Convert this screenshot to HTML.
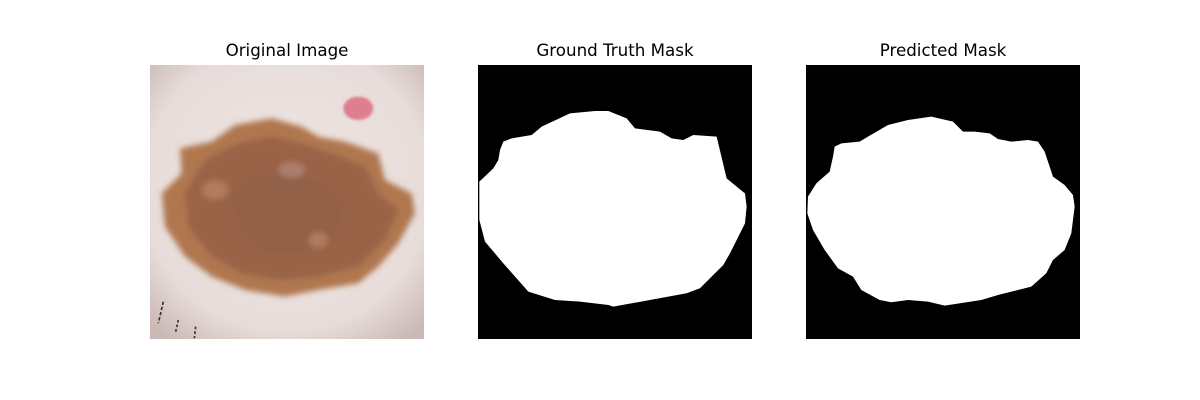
<!DOCTYPE html>
<html><head><meta charset="utf-8"><style>
html,body{margin:0;padding:0;background:#fff;}
svg{display:block;}
text{font-family:"DejaVu Sans","Liberation Sans",sans-serif;font-size:16.7px;fill:#000;}
</style></head><body>
<svg width="1200" height="400" viewBox="0 0 1200 400">
<defs>
<filter id="b4" x="-20%" y="-20%" width="140%" height="140%"><feGaussianBlur stdDeviation="4"/></filter>
<filter id="b8" x="-20%" y="-20%" width="140%" height="140%"><feGaussianBlur stdDeviation="9"/></filter>
<clipPath id="c1"><rect x="150" y="65" width="274" height="274"/></clipPath>
<radialGradient id="skin" cx="50%" cy="45%" r="70%"><stop offset="0" stop-color="#efe6e3"/><stop offset="0.75" stop-color="#e7dcd9"/><stop offset="1" stop-color="#cbb9b5"/></radialGradient>
</defs>

<text x="287" y="56" text-anchor="middle">Original Image</text>
<text x="615" y="56" text-anchor="middle">Ground Truth Mask</text>
<text x="943" y="56" text-anchor="middle">Predicted Mask</text>

<g clip-path="url(#c1)">
<rect x="150" y="65" width="274" height="274" fill="url(#skin)"/>
<g transform="translate(145,60) scale(0.3333)">
<ellipse cx="640" cy="145" rx="45" ry="35" fill="#de7f8e" filter="url(#b4)"/>
<polygon fill="#b07750" filter="url(#b8)" points="105,265 200,245 270,195 380,175 470,200 520,230 600,245 700,280 720,360 800,400 810,460 760,550 700,620 640,670 520,690 420,710 300,690 200,650 120,590 60,500 50,400 110,340"/>
<polygon fill="#9a6447" filter="url(#b8)" points="180,300 280,250 380,230 470,250 560,280 660,320 700,400 760,450 720,540 640,620 520,650 400,660 290,640 200,590 130,500 120,400"/>
<polygon fill="#8d5e4a" opacity="0.5" filter="url(#b8)" points="300,350 420,330 520,360 600,420 580,520 480,580 360,580 280,500 260,420"/>
<ellipse cx="440" cy="330" rx="40" ry="25" fill="#b89084" opacity="0.6" filter="url(#b8)"/>
<ellipse cx="210" cy="390" rx="40" ry="30" fill="#bf8d6c" opacity="0.6" filter="url(#b8)"/>
<ellipse cx="520" cy="540" rx="30" ry="25" fill="#bf8d6c" opacity="0.6" filter="url(#b8)"/>
<line x1="55" y1="725" x2="40" y2="790" stroke="#333" stroke-width="5" stroke-dasharray="10,6"/>
<line x1="100" y1="780" x2="92" y2="815" stroke="#333" stroke-width="5" stroke-dasharray="8,6"/>
<line x1="152" y1="800" x2="148" y2="835" stroke="#333" stroke-width="5" stroke-dasharray="8,6"/>
</g>
</g>

<rect x="478" y="65" width="274" height="274" fill="#000"/>
<g transform="translate(470,60) scale(0.3333)">
<polygon fill="#fff" points="100,245 125,235 185,225 215,200 300,160 375,153 415,153 470,175 495,205 570,215 605,235 640,240 670,225 740,230 770,355 800,380 825,400 830,440 825,490 780,580 760,615 690,685 650,700 430,740 415,735 330,725 255,720 175,695 100,610 45,545 28,480 28,365 70,325 85,300 90,270"/>
</g>

<rect x="806" y="65" width="274" height="274" fill="#000"/>
<g transform="translate(798,60) scale(0.3333)">
<polygon fill="#fff" points="110,260 130,250 185,245 210,230 270,195 330,180 400,170 465,185 495,215 530,215 575,220 600,237 640,245 690,240 720,245 740,275 765,350 800,375 825,405 830,440 820,520 800,570 765,600 745,640 700,680 600,705 550,720 440,737 390,725 330,720 280,727 245,720 190,690 165,650 120,625 80,570 45,510 28,460 30,410 55,370 95,335 105,290"/>
</g>
</svg>
</body></html>
